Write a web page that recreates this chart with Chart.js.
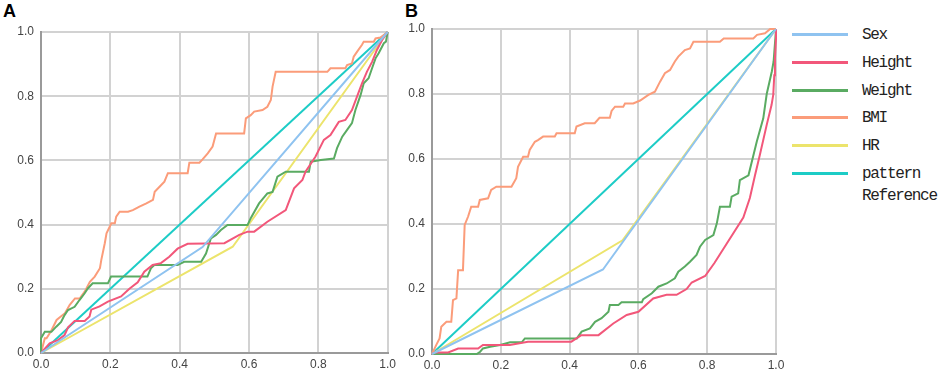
<!DOCTYPE html>
<html>
<head>
<meta charset="utf-8">
<script src="https://cdn.jsdelivr.net/npm/chart.js@4"></script>
<style>
  body { margin: 0; background: #fff; width: 941px; height: 372px; overflow: hidden; position: relative; font-family: 'Liberation Sans', Arial, sans-serif; }
  canvas { position: absolute; top: 0; }
  #chartA { left: 0; }
  #chartB { left: 391px; }
  .panel { position: absolute; font-weight: bold; font-size: 18px; color: #000; }
  #legend { position: absolute; left: 792px; top: 0; }
  .item { position: absolute; left: 0; width: 150px; height: 20px; }
  .item .ln { position: absolute; left: 0; top: 8px; width: 56px; height: 3px; }
  .item .tx { position: absolute; left: 70px; top: 0; font-family: 'Liberation Mono', monospace; font-size: 16px; letter-spacing: -1.3px; color: #222; white-space: nowrap; line-height: 20px; }
</style>
</head>
<body>
<div class="panel" style="left:3px;top:1px;">A</div>
<div class="panel" style="left:405px;top:1px;">B</div>
<canvas id="chartA" width="400" height="372"></canvas>
<canvas id="chartB" width="400" height="372"></canvas>
<div id="legend"></div>
<script>
// series names and colours
const seriesNames = ['Sex', 'Height', 'Weight', 'BMI', 'HR', 'pattern'];
const seriesColors = ['#8fc3f0', '#f2577a', '#5aab62', '#fb9c7a', '#ece46c', '#1dccc6'];
const axisTicks = [0, 0.2, 0.4, 0.6, 0.8, 1.0];

// panel A: [1 - specificity, sensitivity]
const sexA = [[0, 0], [0.466, 0.33], [1, 1]];
const heightA = [[0, 0], [0.025, 0.03], [0.049, 0.04], [0.068, 0.056], [0.078, 0.08], [0.097, 0.1], [0.126, 0.1], [0.14, 0.114], [0.145, 0.135], [0.169, 0.145], [0.193, 0.16], [0.231, 0.176], [0.255, 0.2], [0.279, 0.22], [0.298, 0.253], [0.322, 0.274], [0.346, 0.28], [0.37, 0.3], [0.394, 0.325], [0.423, 0.34], [0.529, 0.342], [0.572, 0.368], [0.596, 0.378], [0.615, 0.378], [0.653, 0.409], [0.706, 0.445], [0.73, 0.513], [0.754, 0.539], [0.763, 0.565], [0.792, 0.612], [0.816, 0.664], [0.835, 0.679], [0.859, 0.72], [0.878, 0.726], [0.897, 0.757], [0.917, 0.814], [0.926, 0.84], [0.94, 0.876], [0.955, 0.907], [0.969, 0.944], [0.984, 0.975], [1, 1]];
const weightA = [[0, 0], [0, 0.046], [0.011, 0.066], [0.03, 0.066], [0.044, 0.082], [0.058, 0.097], [0.068, 0.118], [0.078, 0.134], [0.097, 0.144], [0.111, 0.165], [0.126, 0.186], [0.135, 0.201], [0.149, 0.217], [0.193, 0.217], [0.202, 0.238], [0.307, 0.238], [0.317, 0.264], [0.327, 0.274], [0.394, 0.274], [0.413, 0.284], [0.462, 0.284], [0.476, 0.31], [0.49, 0.357], [0.505, 0.368], [0.519, 0.383], [0.538, 0.399], [0.596, 0.399], [0.605, 0.42], [0.629, 0.466], [0.653, 0.497], [0.668, 0.502], [0.682, 0.549], [0.706, 0.565], [0.773, 0.565], [0.778, 0.596], [0.807, 0.601], [0.845, 0.606], [0.854, 0.638], [0.869, 0.674], [0.883, 0.695], [0.897, 0.716], [0.907, 0.757], [0.922, 0.804], [0.931, 0.84], [0.945, 0.856], [0.955, 0.887], [0.965, 0.918], [0.974, 0.934], [0.989, 0.965], [0.995, 0.97], [1, 1]];
const bmiA = [[0, 0], [0.011, 0.046], [0.016, 0.046], [0.03, 0.07], [0.045, 0.103], [0.069, 0.124], [0.083, 0.15], [0.098, 0.17], [0.112, 0.17], [0.126, 0.191], [0.141, 0.222], [0.155, 0.238], [0.17, 0.264], [0.174, 0.29], [0.184, 0.342], [0.189, 0.373], [0.203, 0.404], [0.213, 0.404], [0.217, 0.425], [0.227, 0.44], [0.251, 0.44], [0.265, 0.445], [0.284, 0.456], [0.304, 0.466], [0.323, 0.477], [0.328, 0.502], [0.342, 0.518], [0.356, 0.534], [0.366, 0.56], [0.423, 0.56], [0.428, 0.593], [0.457, 0.593], [0.466, 0.603], [0.481, 0.622], [0.495, 0.643], [0.505, 0.684], [0.586, 0.684], [0.591, 0.731], [0.605, 0.741], [0.615, 0.752], [0.639, 0.757], [0.653, 0.767], [0.663, 0.788], [0.668, 0.83], [0.677, 0.876], [0.826, 0.876], [0.835, 0.887], [0.878, 0.887], [0.883, 0.897], [0.897, 0.902], [0.902, 0.923], [0.912, 0.939], [0.926, 0.96], [0.931, 0.97], [0.96, 0.97], [0.965, 0.98], [0.979, 0.983], [1, 1]];
const hrA = [[0, 0], [0.553, 0.331], [1, 1]];
const patternA = [[0, 0], [1, 1]];

// panel B
const sexB = [[0, 0], [0.497, 0.26], [1, 1]];
const heightB = [[0, 0], [0.008, 0.005], [0.047, 0.005], [0.076, 0.017], [0.134, 0.017], [0.148, 0.028], [0.226, 0.028], [0.279, 0.038], [0.405, 0.038], [0.434, 0.058], [0.484, 0.058], [0.527, 0.094], [0.566, 0.12], [0.6, 0.13], [0.643, 0.171], [0.682, 0.182], [0.711, 0.182], [0.74, 0.2], [0.755, 0.22], [0.794, 0.24], [0.821, 0.28], [0.857, 0.34], [0.905, 0.42], [0.924, 0.48], [0.939, 0.55], [0.953, 0.612], [0.973, 0.705], [0.987, 0.766], [0.992, 0.797], [0.995, 0.858], [0.997, 0.91], [1, 0.971], [1, 1]];
const weightB = [[0, 0], [0.13, 0], [0.14, 0.007], [0.148, 0.017], [0.169, 0.022], [0.198, 0.028], [0.227, 0.036], [0.261, 0.036], [0.27, 0.048], [0.421, 0.048], [0.435, 0.069], [0.459, 0.079], [0.474, 0.099], [0.493, 0.11], [0.513, 0.13], [0.517, 0.151], [0.542, 0.151], [0.551, 0.159], [0.61, 0.159], [0.614, 0.169], [0.639, 0.187], [0.658, 0.207], [0.682, 0.217], [0.706, 0.233], [0.716, 0.253], [0.735, 0.269], [0.75, 0.284], [0.769, 0.305], [0.779, 0.33], [0.794, 0.351], [0.818, 0.366], [0.828, 0.402], [0.837, 0.453], [0.866, 0.453], [0.871, 0.484], [0.89, 0.494], [0.895, 0.535], [0.92, 0.55], [0.944, 0.653], [0.963, 0.725], [0.973, 0.8], [0.988, 0.87], [0.993, 0.9], [0.998, 0.97], [1, 1]];
const bmiB = [[0, 0], [0.0125, 0.028], [0.022, 0.048], [0.027, 0.084], [0.042, 0.099], [0.056, 0.099], [0.061, 0.166], [0.071, 0.171], [0.076, 0.258], [0.09, 0.258], [0.095, 0.397], [0.105, 0.423], [0.114, 0.453], [0.134, 0.453], [0.139, 0.474], [0.163, 0.479], [0.172, 0.505], [0.187, 0.515], [0.231, 0.515], [0.245, 0.541], [0.25, 0.576], [0.265, 0.607], [0.279, 0.607], [0.284, 0.628], [0.299, 0.653], [0.308, 0.658], [0.323, 0.669], [0.357, 0.669], [0.362, 0.679], [0.415, 0.679], [0.42, 0.7], [0.444, 0.71], [0.473, 0.71], [0.487, 0.727], [0.517, 0.727], [0.522, 0.748], [0.532, 0.761], [0.556, 0.761], [0.561, 0.771], [0.585, 0.771], [0.605, 0.78], [0.629, 0.797], [0.648, 0.807], [0.663, 0.838], [0.677, 0.864], [0.692, 0.874], [0.706, 0.9], [0.716, 0.915], [0.735, 0.935], [0.75, 0.94], [0.76, 0.961], [0.837, 0.961], [0.848, 0.971], [0.934, 0.971], [0.945, 0.982], [0.968, 0.987], [0.983, 1], [1, 1]];
const hrB = [[0, 0], [0.554, 0.35], [1, 1]];
const patternB = [[0, 0], [1, 1]];

function makeDatasets(list) {
    return list.map((pts, i) => ({
        label: seriesNames[i],
        data: pts,
        borderColor: seriesColors[i],
        backgroundColor: seriesColors[i],
        borderWidth: 2,
        pointRadius: 0,
        showLine: true,
        tension: 0,
        clip: 4
    }));
}

function axis(fitSize, isX) {
    return {
        type: 'linear',
        min: 0,
        max: 1,
        afterBuildTicks: s => { s.ticks = axisTicks.map(v => ({ value: v })); },
        afterFit: s => { if (isX) s.height = fitSize; else s.width = fitSize; },
        grid: { color: '#d2d2d2', lineWidth: 2, drawTicks: false },
        border: { color: '#9a9a9a', width: 2 },
        ticks: {
            padding: isX ? 4 : 7,
            color: '#444',
            font: { family: 'Liberation Sans', size: 12 },
            callback: v => v.toFixed(1)
        }
    };
}

function chartConfig(list, pad, xHeight) {
    return {
        type: 'scatter',
        data: { datasets: makeDatasets(list) },
        options: {
            responsive: false,
            animation: false,
            layout: { padding: pad },
            plugins: { legend: { display: false }, tooltip: { enabled: false } },
            scales: { x: axis(xHeight, true), y: axis(41, false) }
        }
    };
}

// drawing order: reference first, curves over it
const chartA = new Chart(document.getElementById('chartA'),
    chartConfig([sexA, heightA, weightA, bmiA, hrA, patternA], { top: 32, right: 11, left: 0, bottom: 0 }, 19));
const chartB = new Chart(document.getElementById('chartB'),
    chartConfig([sexB, heightB, weightB, bmiB, hrB, patternB], { top: 29, right: 15, left: 0, bottom: 0 }, 18));

// legend
const legendRows = [35, 63, 91, 118, 146, 174];
const legend = document.getElementById('legend');
seriesNames.forEach((name, i) => {
    const row = document.createElement('div');
    row.className = 'item';
    row.style.top = (legendRows[i] - 10) + 'px';
    row.innerHTML = '<div class="ln" style="background:' + seriesColors[i] + '"></div><div class="tx">' + name + '</div>';
    legend.appendChild(row);
});
const refRow = document.createElement('div');
refRow.className = 'item';
refRow.style.top = '186px';
refRow.innerHTML = '<div class="tx">Reference</div>';
legend.appendChild(refRow);
</script>
</body>
</html>
